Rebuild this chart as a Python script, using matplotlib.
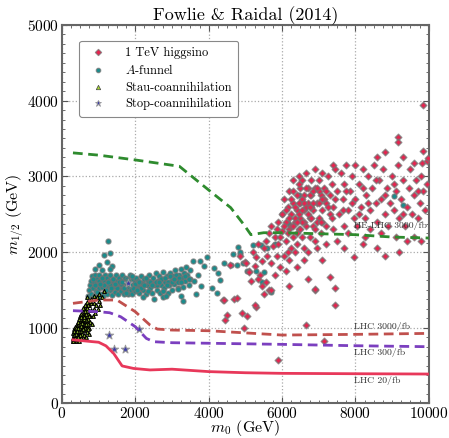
import matplotlib
matplotlib.use('Agg')
import matplotlib.pyplot as plt
from matplotlib.lines import Line2D
from matplotlib.ticker import MultipleLocator

plt.rcParams['font.family'] = ['cmr10', 'DejaVu Serif']
plt.rcParams['mathtext.fontset'] = 'cm'
plt.rcParams['axes.formatter.use_mathtext'] = True

# limit curves (m0, m12)
lhc20_x = [300, 1000, 1200, 1410, 1640, 1950, 2400, 3000, 4000, 5000, 6000, 8000, 10000]
lhc20_y = [840, 808, 760, 660, 495, 462, 442, 452, 420, 405, 397, 392, 388]
lhc300_x = [300, 1000, 1300, 1600, 2000, 2300, 2500, 3000, 6000, 8000, 10000]
lhc300_y = [1225, 1211, 1198, 1145, 1013, 859, 815, 802, 780, 762, 749]
lhc3000_x = [300, 1000, 1500, 2000, 2400, 2600, 3000, 4000, 6000, 8000, 10000]
lhc3000_y = [1322, 1366, 1366, 1211, 1035, 982, 969, 960, 903, 912, 925]
helhc_x = [300, 1000, 1950, 3200, 3650, 4100, 4600, 4960, 5150, 5500, 6000, 8000, 9000, 10000]
helhc_y = [3310, 3280, 3220, 3133, 2956, 2780, 2586, 2361, 2229, 2255, 2255, 2229, 2198, 2185]

# 1 TeV higgsino points
higgsino = [
    (4850,1950),(5000,1870),(5100,1750),(5200,2000),(5250,1820),(5300,1930),(5350,2100),(5400,1700),
    (5450,1880),(5500,2050),(5550,2150),(5550,1600),(5600,1950),(5650,2250),(5700,1850),(5700,2350),
    (5750,2080),(5800,1700),(5800,2200),(5850,1950),(5900,2400),(5900,2100),(5950,1800),(6000,2280),
    (6000,2500),(5650,1500),(5450,1550),(5150,1620),
    (6050,2700),(6100,2400),(6100,2150),(6150,2600),(6200,2800),(6200,2300),(6250,2500),(6300,2950),
    (6300,2650),(6300,2200),(6350,2400),(6400,2750),(6400,2550),(6450,3000),(6450,2300),(6500,2850),
    (6500,2650),(6500,2450),(6550,2200),(6550,2950),(6600,2750),(6600,2550),(6650,2350),(6650,3050),
    (6700,2850),(6700,2650),(6750,2450),(6750,2200),(6800,2950),(6800,2750),(6850,2550),(6850,2350),
    (6900,3100),(6900,2850),(6950,2650),(7000,2450),(7000,2950),(7050,2750),(7050,2250),(7100,3050),
    (7100,2550),(7150,2850),(7200,2650),(7200,2350),(7250,3000),(7300,2750),(7300,2500),(7350,2900),
    (7400,2600),(7400,2300),(7450,3100),(7500,2800),(6150,2000),(6250,2050),(6400,2100),(6600,2050),
    (6900,2150),(7200,2100),(7500,2150),(6350,2000),(6700,2000),(6200,1900),(6050,1950),(6950,2050),
    (6250,2350),(6350,2600),(6450,2500),(6550,2700),(6650,2600),(6750,2750),(6850,2800),(6600,2400),
    (6400,2250),(6500,2300),(6700,2500),(6950,2400),(7100,2400),(7150,2700),(6800,2600),(6900,2300),
    (6300,2800),(6450,2900),(7000,2650),(7250,2600),(6550,2550),(6150,2250),(6250,2700),(6650,2850),
    (6350,2450),(6050,2350),(6200,2450),(6300,2350),(6450,2650),(6600,2650),(6750,2600),(6850,2650),
    (7000,2800),(7100,2700),(7200,2800),(6550,2400),(6400,2400),(6800,2450),(6950,2850),(7050,2400),
    (7350,2450),(7450,2700),(6100,2550),(5950,2200),(5850,2300),
    (7550,2500),(7600,3050),(7650,2700),(7700,2350),(7700,2900),(7750,3150),(7800,2550),(7850,2800),
    (7900,3000),(7950,2450),(8000,2700),(8000,3150),(8050,2350),(8100,2900),(8150,2600),(8200,3100),
    (8250,2450),(8300,2750),(8350,3000),(8400,2300),(8400,2550),(8450,2850),(8500,3150),(8550,2650),
    (8600,2400),(8650,2950),(8700,2700),(8750,3100),(8800,2500),(8850,2850),(8900,2350),(8950,2650),
    (9000,3000),(9050,2550),(9100,2800),(9150,3150),(9200,2450),(9250,2700),(9300,2950),(9350,2350),
    (9400,2600),(9450,2850),(9500,3100),(9550,2500),(9600,2750),(9650,2950),(9700,2450),(9750,2650),
    (9800,3000),(9850,2800),(9900,2550),(9950,3200),(9950,2900),(8250,2200),(8700,2250),(9100,2200),
    (9600,2200),(7800,2250),(9400,2150),(7650,2550),(7900,2650),(8100,2500),(8350,2650),(8550,2950),
    (8800,2750),(9050,2900),(9300,2500),(9700,2800),(7750,2800),(8200,2850),
    (9850,3940),(9150,3520),(9150,3460),(8800,3320),(9850,3330),(9980,3240),(9600,3180),(9820,3180),
    (9300,3250),(8600,3250),(7400,3150),
    (6400,1800),(6700,1650),(6900,1500),(7100,1890),(7300,1670),(7450,1530),(7450,1300),(7950,1930),
    (8200,2100),(8600,2050),(9200,2000),(9800,2150),(6200,1550),(6100,1750),(7700,2050),(8800,1950),
    (6600,1900),
    (5900,570),(7150,820),(6650,1040),(4950,990),(4450,1100),(4500,1170),(4700,1380),(4400,1370),
    (4900,1200),(5050,1150),(5300,1280),(4580,1830),(5030,1850),(5090,1740),(4760,1390),(4430,1360),
    (5700,1500),(6900,1510),(5250,1300),(5500,1450),(5350,1650),
]

# A-funnel points
afunnel = [
    (720,1420),(740,1500),(760,1560),(780,1620),(800,1450),(820,1680),(840,1530),(860,1600),
    (880,1420),(900,1700),(920,1480),(940,1560),(960,1640),(980,1400),(1000,1520),(1020,1700),
    (1040,1600),(1060,1450),(1080,1660),(1100,1540),
    (1120,1420),(1140,1620),(1160,1700),(1180,1480),(1200,1580),(1220,1660),(1240,1440),(1260,1540),
    (1280,1620),(1300,1700),(1320,1500),(1340,1580),(1360,1430),(1380,1650),(1400,1540),(1420,1600),
    (1440,1470),(1460,1690),(1480,1560),(1500,1620),(1520,1440),(1540,1530),(1560,1660),(1580,1580),
    (1600,1480),(1620,1620),(1640,1700),(1660,1520),(1680,1440),(1700,1600),(1720,1660),(1740,1500),
    (1760,1570),(1780,1640),(1800,1450),(1820,1540),(1840,1610),(1860,1690),(1880,1500),(1900,1580),
    (1920,1450),(1940,1650),(1960,1540),(1980,1600),(2000,1480),
    (2020,1660),(2050,1560),(2080,1620),(2100,1460),(2130,1540),(2160,1680),(2190,1590),(2220,1500),
    (2250,1640),(2280,1440),(2310,1560),(2340,1620),(2370,1700),(2400,1520),(2430,1600),(2460,1460),
    (2490,1660),(2520,1560),(2550,1720),(2580,1500),(2610,1620),(2640,1680),(2670,1460),(2700,1560),
    (2730,1640),(2760,1740),(2790,1520),(2820,1600),(2850,1680),(2880,1460),(2910,1560),(2940,1720),
    (2970,1620),(3000,1500),
    (3030,1680),(3060,1580),(3090,1760),(3120,1640),(3150,1520),(3180,1700),(3210,1600),(3240,1780),
    (3270,1660),(3300,1540),(3330,1720),(3360,1620),(3390,1800),(3420,1700),(3450,1560),(3480,1760),
    (3500,1650),
    (900,1560),(1000,1620),(1100,1660),(1200,1500),(1300,1560),(1400,1640),(1500,1520),(1600,1580),
    (1700,1530),(1800,1620),(1900,1680),(2000,1580),(2100,1600),(2200,1580),(2300,1660),(2400,1600),
    (2500,1580),(2600,1560),(2700,1640),(2800,1660),(2900,1600),(3000,1600),(3100,1700),(3200,1660),
    (950,1470),(1150,1560),(1350,1520),(1550,1600),(1750,1460),(1950,1520),(2150,1520),(2350,1480),
    (2550,1600),(2750,1480),(2950,1680),(3150,1600),(3350,1680),(850,1640),(1050,1580),(1250,1600),
    (1450,1580),(1650,1600),(1850,1560),(2050,1500),(2250,1560),(2450,1560),(2650,1600),(2850,1560),
    (3050,1640),(3250,1600),(3450,1640),
    (1250,2140),(1135,1960),(1320,1985),(1230,1870),(1020,1830),(1370,1810),(910,1780),(1100,1760),
    (1300,1780),
    (3580,1880),(3750,1880),(3880,1810),(3950,1930),(4150,1790),(4260,1720),(4300,1630),(4080,1525),
    (4220,1460),(3300,1350),(3250,1420),(3160,1510),(2750,1400),(2840,1420),(2200,1400),(2500,1380),
    (3600,1620),(3700,1700),(3800,1550),(3650,1450),(4420,1850),(4650,1970),(4800,2070),(4850,1980),
    (4620,1830),(4760,1830),(4940,1850),(4850,2000),(5210,2090),(5430,2090),(5520,1740),(5700,1470),
    (5600,2050),(5800,2100),(6150,2380),(6450,2750),(6000,2500),(5300,1750),(5450,1600),(5050,1750),
    (9300,2620),(9050,2740),
]

# stau-coannihilation points
stau = [
    (290,820),(300,870),(310,930),(320,980),(330,840),(340,900),(350,960),(360,1010),(370,830),
    (380,880),(390,940),(400,1000),(410,1050),(420,850),(430,910),(440,970),(450,1030),(460,1090),
    (470,830),(480,880),(490,940),(500,1000),(510,1060),(520,1120),(530,860),(540,920),(550,980),
    (560,1040),(570,1100),(580,1160),(590,850),(600,910),(610,970),(620,1030),(630,1090),(640,1150),
    (650,1210),(660,880),(670,940),(680,1000),(690,1060),(700,1120),(710,1180),(720,1240),(730,1300),
    (740,920),(750,1000),(760,1080),(770,1160),(780,1240),(790,1320),(800,1380),(820,1050),(840,1150),
    (860,1250),(880,1330),(900,1200),(920,1300),(950,1400),(980,1250),(1000,1350),(1020,1450),
    (1050,1300),(1100,1400),(1150,1480),(870,1420),(760,1350),(690,1400),(640,1280),
    (320,900),(360,950),(400,890),(440,1030),(480,1000),(520,950),(560,1150),(600,1050),(640,1000),
    (680,1150),(720,1050),(460,950),(540,1080),(620,1200),(700,980),(340,820),(420,980),(500,900),
    (580,1000),(660,1050),(300,830),(350,870),(400,940),(450,880),(500,1080),(550,1200),(600,1250),
    (650,1100),(700,1300),(380,1000),(430,1080),(480,1150),(530,1180),(580,1260),(620,1300),(670,1340),
    (310,850),(330,960),(370,920),(410,960),(450,1000),(490,1050),(530,1020),(570,980),(610,1120),
    (650,1180),(690,1220),(730,1150),(470,1120),(510,1140),(550,1060),(590,1140),(630,1220),(670,1260),
]

# stop-coannihilation points
stop = [(1270,905),(1410,720),(1710,720),(2090,980),(1800,1590)]

c_hig = '#e8234f'
c_af = '#1a8c8c'
c_stau = '#a6d832'
c_stop = '#3a3aa8'

fig = plt.figure(figsize=(4.49, 4.38), dpi=100)
ax = fig.add_axes([0.138, 0.079, 0.817, 0.864])

def xy(pts):
    return [p[0] for p in pts], [p[1] for p in pts]

halo = (0.45, 0.45, 0.45, 0.7)
hx, hy = xy(higgsino)
ax.scatter(hx, hy, marker='D', s=11, c=c_hig, edgecolors=halo, linewidths=1.1, zorder=3)
ax_, ay_ = xy(afunnel)
ax.scatter(ax_, ay_, marker='o', s=13, c=c_af, edgecolors=halo, linewidths=1.0, zorder=2)
sx, sy = xy(stau)
ax.scatter(sx, sy, marker='^', s=7, c=c_stau, edgecolors='black', linewidths=0.8, zorder=4)
tx, ty = xy(stop)
ax.scatter(tx, ty, marker='*', s=40, c=c_stop, edgecolors='#999999', linewidths=0.7, zorder=4)

ax.plot(lhc20_x, lhc20_y, color='#e8385a', lw=2, zorder=5)
ax.plot(lhc300_x, lhc300_y, color='#7b3fbf', lw=2, ls=(0, (3.5, 2)), zorder=5)
ax.plot(lhc3000_x, lhc3000_y, color='#c0504d', lw=2, ls=(0, (3.5, 2)), zorder=5)
ax.plot(helhc_x, helhc_y, color='#2e8b2e', lw=2, ls=(0, (3.5, 2)), zorder=5)

lab_kw = dict(fontsize=7, color='#333333', ha='left', va='center', zorder=6)
ax.text(7950, 2350, 'HE-LHC 3000/fb', **lab_kw)
ax.text(7950, 1020, 'LHC 3000/fb', **lab_kw)
ax.text(7950, 670, 'LHC 300/fb', **lab_kw)
ax.text(7950, 300, 'LHC 20/fb', **lab_kw)

ax.set_xlim(0, 10000)
ax.set_ylim(0, 5000)
ax.xaxis.set_major_locator(MultipleLocator(2000))
ax.yaxis.set_major_locator(MultipleLocator(1000))
ax.xaxis.set_minor_locator(MultipleLocator(250))
ax.yaxis.set_minor_locator(MultipleLocator(125))
ax.tick_params(which='both', direction='in', top=True, right=True, colors='#555555',
               labelcolor='black', labelsize=11, pad=2)
ax.tick_params(which='major', length=4)
ax.tick_params(which='minor', length=2)
for s in ax.spines.values():
    s.set_color('#666666')
    s.set_linewidth(1.5)
ax.grid(True, ls=':', color='#aaaaaa', lw=0.9)
ax.set_axisbelow(True)

ax.set_xlabel(r'$m_0$ (GeV)', fontsize=11.5, labelpad=-2)
ax.set_ylabel(r'$m_{1/2}$ (GeV)', fontsize=11.5, labelpad=1)
ax.set_title('Fowlie & Raidal (2014)', fontsize=13, pad=3)

handles = [
    Line2D([], [], ls='', marker='D', ms=3.2, mfc=c_hig, mec=halo, mew=0.9),
    Line2D([], [], ls='', marker='o', ms=3.2, mfc=c_af, mec=halo, mew=0.9),
    Line2D([], [], ls='', marker='^', ms=3.2, mfc=c_stau, mec='#444444', mew=0.5),
    Line2D([], [], ls='', marker='*', ms=5, mfc=c_stop, mec='#999999', mew=0.6),
]
labels = ['1 TeV higgsino', r'$A$-funnel', 'Stau-coannihilation', 'Stop-coannihilation']
leg = ax.legend(handles, labels, loc='upper left', bbox_to_anchor=(0.03, 0.975), fontsize=9,
                frameon=True, fancybox=True, edgecolor='#888888', framealpha=1,
                handletextpad=1.2, borderpad=0.5, labelspacing=0.35)
leg.get_frame().set_linewidth(0.8)

fig.savefig('out.png', dpi=100)
